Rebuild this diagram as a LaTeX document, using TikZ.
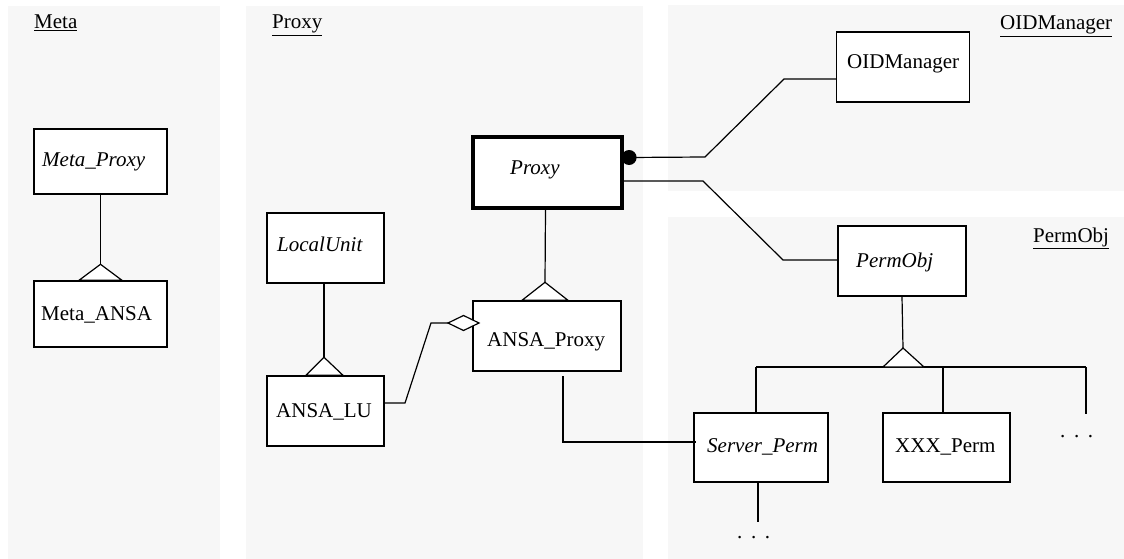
\documentclass[tikz,border=0pt]{standalone}
\usepackage{fontspec}
\setmainfont{Liberation Serif}
\usetikzlibrary{calc}
\definecolor{panelgray}{HTML}{F7F7F7}
\begin{document}
\begin{tikzpicture}[x=1pt,y=-1pt,
  panel/.style={fill=panelgray, draw=none},
  box/.style={draw, fill=white, line width=1.4pt, rectangle, inner sep=0pt},
  thickbox/.style={box, line width=3.2pt},
  conn/.style={line width=1.2pt},
  txt/.style={anchor=base west, inner sep=0pt, font=\fontsize{21}{25}\selectfont},
  itxt/.style={anchor=base west, inner sep=0pt, font=\fontsize{21}{25}\selectfont\itshape},
  tri/.style={draw, fill=white, line width=1.2pt, line join=miter},
  agg/.style={draw, fill=white, line width=1.2pt}
]
\useasboundingbox (0,0) rectangle (1124,559);
% panels
\fill[panelgray] (8,6) rectangle (220,559);
\fill[panelgray] (246,6) rectangle (643,559);
\fill[panelgray] (668,5) rectangle (1124,191);
\fill[panelgray] (668,217) rectangle (1124,559);
% panel titles
\node[txt] (tMeta) at (34,29) {\underline{Meta}};
\node[txt] (tProxy) at (272,29) {\underline{Proxy}};
\node[txt] (tOID) at (1000,30) {\underline{OIDManager}};
\node[txt] (tPerm) at (1033,242) {\underline{PermObj}};

% boxes
\node[box, minimum width=133pt, minimum height=65pt] (mp) at (100.5,161.5) {};
\node[box, minimum width=133pt, minimum height=66pt] (ma) at (100.5,314) {};
\node[thickbox, minimum width=149pt, minimum height=71pt] (px) at (547.5,172.5) {};
\node[box, minimum width=148pt, minimum height=70pt] (ap) at (547,336) {};
\node[box, minimum width=117pt, minimum height=70pt] (lu) at (325.5,248) {};
\node[box, minimum width=117pt, minimum height=70pt] (al) at (325.5,411) {};
\node[box, minimum width=133pt, minimum height=70pt] (oid) at (903,67) {};
\node[box, minimum width=128pt, minimum height=70pt] (po) at (902,261) {};
\node[box, minimum width=134pt, minimum height=69pt] (sp) at (761,447.5) {};
\node[box, minimum width=127pt, minimum height=69pt] (xp) at (946.5,447.5) {};

% box texts
\node[itxt] (lmp) at (42,166) {Meta\_Proxy};
\node[txt] (lma) at (41,320) {Meta\_ANSA};
\node[itxt] (lpx) at (510,175) {Proxy};
\node[txt] (lap) at (487,346) {ANSA\_Proxy};
\node[itxt] (llu) at (277,251) {LocalUnit};
\node[txt] (lal) at (276,417) {ANSA\_LU};
\node[txt] (loid) at (847,69) {OIDManager};
\node[itxt] (lpo) at (856,267) {PermObj};
\node[itxt] (lsp) at (707,452) {Server\_Perm};
\node[txt] (lxp) at (895,452) {XXX\_Perm};

% inheritance: Meta
\coordinate (maApex) at ($(ma.north)+(0,-16)$);
\draw[conn] (mp.south) -- (maApex);
\draw[tri] ($(ma.north)+(-21.5,0)$) -- (maApex) -- ($(ma.north)+(21.5,0)$) -- cycle;

% inheritance: Proxy -> ANSA_Proxy
\coordinate (apApex) at ($(ap.north)+(-2,-18)$);
\draw[conn] ($(px.south)+(-2,0)$) -- (apApex);
\draw[tri] ($(ap.north)+(-25,0)$) -- (apApex) -- ($(ap.north)+(21,0)$) -- cycle;

% inheritance: LocalUnit -> ANSA_LU
\coordinate (alApex) at ($(al.north)+(-1.5,-18)$);
\draw[conn] ($(lu.south)+(-1.5,0)$) -- (alApex);
\draw[tri] ($(al.north)+(-19.5,0)$) -- (alApex) -- ($(al.north)+(17.5,0)$) -- cycle;

% inheritance: PermObj -> subclasses
\coordinate (busL) at (756,367);
\coordinate (busR) at (1086,367);
\coordinate (busX) at (943,367);
\coordinate (poApex) at (903,348);
\coordinate (dotsTop) at (1086,414);
\draw[conn] (busL) -- (busR);
\draw[conn] (busL) -- (busL |- sp.north);
\draw[conn] (busX) -- (busX |- xp.north);
\draw[conn] (busR) -- (dotsTop);
\draw[conn] (po.south) -- (poApex);
\draw[tri] (883,367) -- (poApex) -- (924,367) -- cycle;
\node[txt] (dotsR) at (1060,437) {.\hspace{8.6pt}.\hspace{8.6pt}.};

% Server_Perm -> ...
\coordinate (spBot) at (758,522);
\draw[conn] (spBot |- sp.south) -- (spBot);
\node[txt] (dotsB) at (737,538) {.\hspace{8.6pt}.\hspace{8.6pt}.};

% Proxy -> OIDManager (filled dot)
\coordinate (dotc) at ($(px.east)+(5.5,-15)$);
\coordinate (o1) at (705,157);
\coordinate (o2) at (784,79);
\draw[conn] (dotc) -- (o1) -- (o2) -- (o2 -| oid.west);
\fill (dotc) circle (7.5pt);

% Proxy -> PermObj
\coordinate (p0) at ($(px.east)+(0,8.5)$);
\coordinate (p1) at (703,181);
\coordinate (p2) at (783,260);
\draw[conn] (p0) -- (p1) -- (p2) -- (p2 -| po.west);

% ANSA_LU -> ANSA_Proxy aggregation
\coordinate (a0) at ($(al.east)+(0,-8)$);
\coordinate (a1) at (405,403);
\coordinate (a2) at (431,323);
\coordinate (dL) at (448,323);
\draw[conn] (a0) -- (a1) -- (a2) -- (dL);
\draw[agg] (dL) -- ++(15.5,-7.5) -- ++(15.5,7.5) -- ++(-15.5,7.5) -- cycle;

% ANSA_Proxy -> Server_Perm
\coordinate (s0) at (563,376);
\coordinate (s1) at (563,442);
\draw[conn] (s0) -- (s1) -- ($(sp.west |- s1)+(3,0)$);
\end{tikzpicture}
\end{document}
